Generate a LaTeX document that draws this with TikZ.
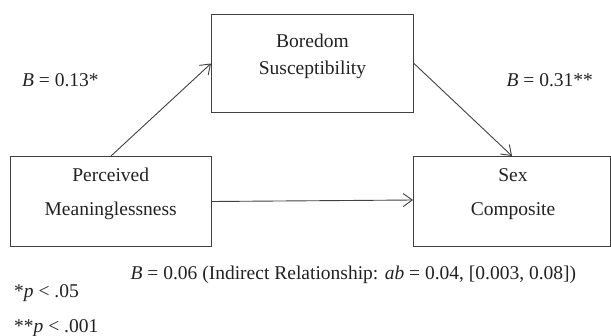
\documentclass[tikz,border=0pt]{standalone}
\usepackage{fontspec}
\setmainfont{Liberation Serif}
\usetikzlibrary{arrows.meta}
\definecolor{ln}{HTML}{404040}
\definecolor{tx}{HTML}{222222}
\tikzset{
  box/.style={draw=ln, line width=1pt, inner sep=0pt, anchor=north west},
  lbl/.style={font=\fontsize{19.5}{23}\selectfont, text=tx, inner sep=0pt, anchor=base},
  lbll/.style={lbl, anchor=base west},
  arr/.style={draw=ln, line width=0.9pt, -{Straight Barb[length=9pt,width=13pt]}}
}
\begin{document}
\begin{tikzpicture}[x=1pt,y=-1pt]
\useasboundingbox (0,0) rectangle (611,335);
\node[box, minimum width=202pt, minimum height=98pt] (T) at (211,14) {};
\node[box, minimum width=201pt, minimum height=90pt] (L) at (10,156) {};
\node[box, minimum width=197pt, minimum height=90pt] (R) at (413,156) {};
\node[lbl] (t1) at (312.5,47) {Boredom};
\node[lbl] (t2) at (312.5,74) {Susceptibility};
\node[lbl] (l1) at (110.7,181) {Perceived};
\node[lbl] (l2) at (110.7,215) {Meaninglessness};
\node[lbl] (r1) at (513,181) {Sex};
\node[lbl] (r2) at (513,215) {Composite};
\draw[arr] (L.north) -- (T.west);
\draw[arr] (T.east) -- (R.north);
\draw[arr] (L.east) -- ([yshift=1.5pt]R.west);
\node[lbll] (a) at (22,86) {\textit{B} = 0.13*};
\node[lbll] (b) at (506.5,86) {\textit{B} = 0.31**};
\node[lbll] (c) at (130.5,279) {\textit{B} = 0.06 (Indirect Relationship: \textit{ab} = 0.04, [0.003, 0.08])};
\node[lbll] (n1) at (14,297) {*\textit{p} < .05};
\node[lbll] (n2) at (14,332) {**\textit{p} < .001};
\end{tikzpicture}
\end{document}
